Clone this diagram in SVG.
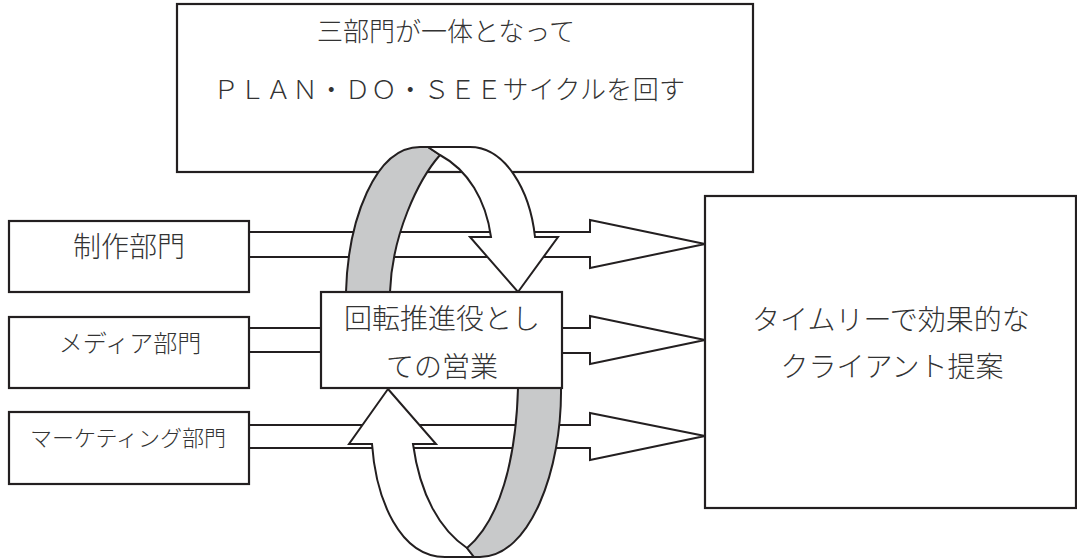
<svg xmlns="http://www.w3.org/2000/svg" width="1077" height="560" viewBox="0 0 1077 560">
<style>
.box{fill:#fff;stroke:#231f20;stroke-width:2.2}
.ln{fill:none;stroke:#231f20;stroke-width:2}
.ar{fill:#fff;stroke:#231f20;stroke-width:2;stroke-linejoin:miter}
.gr{fill:#c8c9ca;stroke:#231f20;stroke-width:2;stroke-linejoin:round}
.wh{fill:#fff;stroke:#231f20;stroke-width:2;stroke-linejoin:miter}
text{font-family:"Noto Sans CJK JP","Liberation Serif",sans-serif;font-weight:300;fill:#333;text-anchor:middle}
</style>
<rect width="1077" height="560" fill="#fff"/>
<g id="top-box">
<rect class="box" x="177" y="4" width="576" height="168"/>
<text x="446" y="41" font-size="26">三部門が一体となって</text>
<text x="449" y="99" font-size="26" textLength="472" lengthAdjust="spacing">ＰＬＡＮ・ＤＯ・ＳＥＥサイクルを回す</text>
</g>
<g id="connectors">
<path class="ar" d="M249,232 H590 V220 L705,244 L590,268 V257 H249"/>
<path class="ln" d="M249,328 H321 M249,352 H321"/>
<path class="ar" d="M562,328 H590 V316 L705,340 L590,364 V353 H562"/>
<path class="ar" d="M249,425 H590 V413 L705,436 L590,460 V448 H249"/>
</g>
<g id="cycle">
<path class="gr" d="M346,292 C348,220 375,147 420,147 L428,147 L440,155 C418,180 392,235 390,292 Z"/>
<path class="wh" d="M428,147 L470,147 C505,147 530,190 535,237 L558,237 L518,292 L470,237 L491,237 C486,200 468,170 440,155 Z"/>
<path class="wh" d="M388,389 L436,444 L413,444 C420,495 440,530 467,548 L474,557 L445,557 C400,557 376,500 372,444 L349,444 Z"/>
<path class="gr" d="M518,388 L561,388 C562,470 530,557 480,557 L474,557 L467,548 C500,520 516,460 518,388 Z"/>
</g>
<g id="sales">
<rect class="box" x="321" y="292" width="241" height="96"/>
<text x="442" y="329" font-size="28">回転推進役とし</text>
<text x="442" y="377" font-size="28">ての営業</text>
</g>
<g id="production">
<rect class="box" x="9" y="221" width="240" height="71"/>
<text x="129" y="257" font-size="28">制作部門</text>
</g>
<g id="media">
<rect class="box" x="9" y="317" width="240" height="71"/>
<text x="130" y="352" font-size="24">メディア部門</text>
</g>
<g id="marketing">
<rect class="box" x="9" y="412" width="240" height="72"/>
<text x="128" y="446" font-size="22">マーケティング部門</text>
</g>
<g id="proposal">
<rect class="box" x="705" y="196" width="371" height="312"/>
<text x="891" y="330" font-size="28">タイムリーで効果的な</text>
<text x="892" y="377" font-size="28">クライアント提案</text>
</g>
</svg>
